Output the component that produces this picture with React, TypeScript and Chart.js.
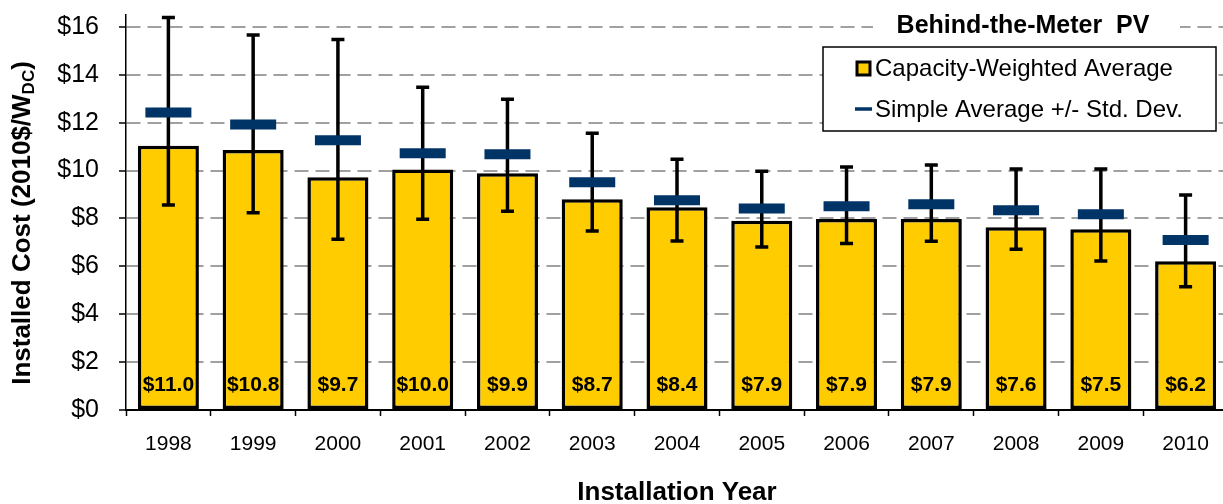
import React, { useEffect, useRef } from 'react';
import { Chart, registerables } from 'chart.js';

Chart.register(...registerables);

const years = ['1998', '1999', '2000', '2001', '2002', '2003', '2004', '2005', '2006', '2007', '2008', '2009', '2010'];
const capacityWeighted = [11.04, 10.86, 9.72, 10.05, 9.89, 8.8, 8.47, 7.91, 7.98, 7.98, 7.63, 7.55, 6.21];
const capacityWeightedLabels = ['$11.0', '$10.8', '$9.7', '$10.0', '$9.9', '$8.7', '$8.4', '$7.9', '$7.9', '$7.9', '$7.6', '$7.5', '$6.2'];
const simpleAverage = [12.43, 11.93, 11.27, 10.72, 10.68, 9.51, 8.76, 8.42, 8.51, 8.59, 8.34, 8.18, 7.1];
const stdDevHigh = [16.4, 15.66, 15.48, 13.48, 12.98, 11.56, 10.47, 9.97, 10.15, 10.23, 10.07, 10.07, 8.98];
const stdDevLow = [8.56, 8.24, 7.13, 7.97, 8.3, 7.48, 7.06, 6.81, 6.96, 7.05, 6.71, 6.22, 5.15];

const chartTitle = 'Behind-the-Meter  PV';
const legendLabels = ['Capacity-Weighted Average', 'Simple Average +/- Std. Dev.'];
const xTitle = 'Installation Year';
const yTitleMain = 'Installed Cost (2010$/W';
const yTitleSub = 'DC';
const yTitleEnd = ')';

const FONT = '"Liberation Sans", Arial, Helvetica, sans-serif';
const YELLOW = '#FFCC00';
const NAVY = '#003366';

const overlayPlugin = {
  id: 'overlay',
  afterDatasetDraw(chart: any, args: any) {
    if (args.index !== 0) return;
    const ctx = chart.ctx;
    const xs = chart.scales.x;
    const ys = chart.scales.y;
    ctx.save();
    ctx.strokeStyle = '#000';
    ctx.lineWidth = 3.5;
    years.forEach((_, i) => {
      const px = xs.getPixelForValue(i);
      const top = ys.getPixelForValue(stdDevHigh[i]);
      const bot = ys.getPixelForValue(stdDevLow[i]);
      ctx.beginPath();
      ctx.moveTo(px, top);
      ctx.lineTo(px, bot);
      ctx.moveTo(px - 6.5, top);
      ctx.lineTo(px + 6.5, top);
      ctx.moveTo(px - 6.5, bot);
      ctx.lineTo(px + 6.5, bot);
      ctx.stroke();
    });
    ctx.fillStyle = '#000';
    ctx.font = `bold 21px ${FONT}`;
    ctx.textAlign = 'center';
    ctx.textBaseline = 'middle';
    years.forEach((_, i) => {
      ctx.fillText(capacityWeightedLabels[i], xs.getPixelForValue(i), ys.getPixelForValue(0) - 25);
    });
    ctx.restore();
  },
  afterDraw(chart: any) {
    const ctx = chart.ctx;
    const area = chart.chartArea;
    ctx.save();
    // chart title with white background
    ctx.fillStyle = '#fff';
    ctx.fillRect(873, 13, 307, 26);
    ctx.fillStyle = '#000';
    ctx.font = `bold 25px ${FONT}`;
    ctx.textAlign = 'center';
    ctx.textBaseline = 'middle';
    ctx.fillText(chartTitle, 1023, 26);

    // legend box
    ctx.fillStyle = '#fff';
    ctx.fillRect(823, 47, 393, 84);
    ctx.strokeStyle = '#000';
    ctx.lineWidth = 1.5;
    ctx.strokeRect(823, 47, 393, 84);
    // entry 1
    ctx.fillStyle = YELLOW;
    ctx.fillRect(857, 62, 13, 13);
    ctx.lineWidth = 3;
    ctx.strokeRect(857, 62, 13, 13);
    // entry 2
    ctx.strokeStyle = NAVY;
    ctx.lineWidth = 3.5;
    ctx.beginPath();
    ctx.moveTo(855, 109);
    ctx.lineTo(872, 109);
    ctx.stroke();
    ctx.fillStyle = '#000';
    ctx.font = `24px ${FONT}`;
    ctx.textAlign = 'left';
    ctx.fillText(legendLabels[0], 875, 69);
    ctx.fillText(legendLabels[1], 875, 110);

    // x title
    ctx.font = `bold 26px ${FONT}`;
    ctx.textAlign = 'center';
    ctx.fillText(xTitle, (area.left + area.right) / 2, 493);

    // y title with subscript
    ctx.translate(23, 223);
    ctx.rotate(-Math.PI / 2);
    const mainFont = `bold 26px ${FONT}`;
    const subFont = `bold 17px ${FONT}`;
    ctx.font = mainFont;
    const w1 = ctx.measureText(yTitleMain).width;
    const w3 = ctx.measureText(yTitleEnd).width;
    ctx.font = subFont;
    const w2 = ctx.measureText(yTitleSub).width;
    const total = w1 + w2 + w3;
    let cx = -total / 2;
    ctx.textAlign = 'left';
    ctx.textBaseline = 'middle';
    ctx.font = mainFont;
    ctx.fillText(yTitleMain, cx, 0);
    cx += w1;
    ctx.font = subFont;
    ctx.fillText(yTitleSub, cx, 6);
    cx += w2;
    ctx.font = mainFont;
    ctx.fillText(yTitleEnd, cx, 0);
    ctx.restore();
  },
};

export default function App() {
  const canvasRef = useRef<HTMLCanvasElement | null>(null);

  useEffect(() => {
    if (!canvasRef.current) return;
    const chart = new Chart(canvasRef.current, {
      type: 'bar',
      data: {
        labels: years,
        datasets: [
          {
            type: 'bar',
            label: legendLabels[0],
            data: capacityWeighted,
            backgroundColor: YELLOW,
            borderColor: '#000',
            borderWidth: 3.5,
            borderSkipped: false,
            barPercentage: 0.72,
            categoryPercentage: 1,
            order: 2,
          } as any,
          {
            type: 'line',
            label: legendLabels[1],
            data: simpleAverage,
            showLine: false,
            pointStyle: 'line',
            pointRadius: 23,
            pointHoverRadius: 23,
            pointBorderWidth: 10,
            pointHoverBorderWidth: 10,
            pointBorderColor: NAVY,
            pointBackgroundColor: NAVY,
            borderColor: NAVY,
            order: 1,
          } as any,
        ],
      },
      options: {
        responsive: true,
        maintainAspectRatio: false,
        animation: false,
        events: [],
        layout: { autoPadding: false, padding: { top: 15, right: 2, left: 0, bottom: 0 } },
        plugins: {
          legend: { display: false },
          title: { display: false },
          tooltip: { enabled: false },
        },
        scales: {
          x: {
            offset: true,
            afterFit: (scale: any) => {
              scale.height = 94;
              scale.paddingLeft = 0;
              scale.paddingRight = 0;
            },
            grid: {
              display: true,
              offset: true,
              drawOnChartArea: false,
              drawTicks: true,
              tickLength: 6,
              tickColor: '#000',
              tickWidth: 1.5,
            },
            border: { display: true, color: '#000', width: 2 },
            ticks: {
              color: '#000',
              font: { family: FONT, size: 21 },
              padding: 16,
              maxRotation: 0,
            },
          },
          y: {
            min: 0,
            max: 16.5,
            afterFit: (scale: any) => {
              scale.width = 126;
              scale.paddingTop = 0;
              scale.paddingBottom = 0;
            },
            grid: {
              color: (c: any) => (c.tick && c.tick.value === 0 ? 'rgba(0,0,0,0)' : '#A0A0A0'),
              lineWidth: 2,
              drawTicks: true,
              tickLength: 7,
              tickColor: '#000',
              tickWidth: 1.5,
              tickBorderDash: [],
            },
            border: { display: true, color: '#000', width: 1.5, dash: [14, 7] },
            ticks: {
              stepSize: 2,
              includeBounds: false,
              color: '#000',
              font: { family: FONT, size: 25 },
              padding: 20,
              callback: (v: any) => '$' + v,
            },
          },
        },
      } as any,
      plugins: [overlayPlugin],
    });
    return () => chart.destroy();
  }, []);

  return (
    <div style={{ position: 'fixed', left: 0, top: 0, width: 1223, height: 504, overflow: 'hidden', background: '#fff' }}>
      <div style={{ position: 'absolute', left: 0, top: 0, width: 1230, height: 504 }}>
        <canvas ref={canvasRef} />
      </div>
    </div>
  );
}
